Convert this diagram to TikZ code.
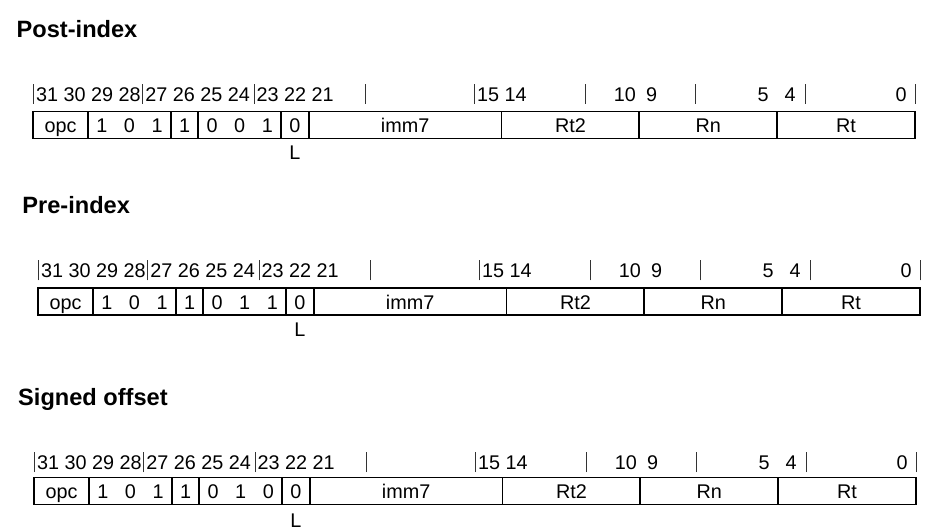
\documentclass[tikz,border=0pt]{standalone}
\usepackage{fontspec}
\setmainfont{Liberation Sans}
\tikzset{
  boxline/.style={line width=1.8bp, line cap=rect},
  tickline/.style={line width=1bp, black!80},
  celltext/.style={inner sep=0pt, anchor=base, font=\fontsize{19.8bp}{23bp}\selectfont},
  numtext/.style={inner sep=0pt, font=\fontsize{19.8bp}{23bp}\selectfont},
  titletext/.style={inner sep=0pt, anchor=base west, font=\fontsize{23.6bp}{28bp}\selectfont\bfseries},
}
% #1 prefix, #2 dx, #3 number baseline, #4 box top, #5 L baseline, #6 #7 #8 bits 25 24 23
\newcommand\encrow[8]{%
  % tick row
  \foreach \bx in {33.3,142.7,254,365,474.3,585,695,805,915.3}{%
    \draw[tickline] ({\bx+#2},{#3+2.5}) -- ({\bx+#2},{#3-17.5});}
  \node[numtext, anchor=base west] (#1na) at ({35.9+#2},#3) {31 30 29 28};
  \node[numtext, anchor=base west] (#1nb) at ({145.2+#2},#3) {27 26 25 24};
  \node[numtext, anchor=base west] (#1nc) at ({256.5+#2},#3) {23 22 21};
  \node[numtext, anchor=base west] (#1nd) at ({476.9+#2},#3) {15 14};
  \node[numtext, anchor=base east] (#1ne) at ({636+#2},#3) {10};
  \node[numtext, anchor=base west] (#1nf) at ({646+#2},#3) {9};
  \node[numtext, anchor=base] (#1ng) at ({763+#2},#3) {5};
  \node[numtext, anchor=base] (#1nh) at ({790+#2},#3) {4};
  \node[numtext, anchor=base] (#1ni) at ({901+#2},#3) {0};
  % box
  \draw[boxline] ({33+#2},#4) rectangle ({33+#2+32*27.5625},{#4+27});
  \foreach \k in {2,5,6,9,10,17,22,27}{%
    \draw[boxline] ({33+#2+\k*27.5625},#4) -- ({33+#2+\k*27.5625},{#4+27});}
  \node[celltext] (#1opc) at ({33+#2+1*27.5625},{#4+21.2}) {opc};
  \node[celltext] (#1b29) at ({33+#2+2.5*27.5625},{#4+21.2}) {1};
  \node[celltext] (#1b28) at ({33+#2+3.5*27.5625},{#4+21.2}) {0};
  \node[celltext] (#1b27) at ({33+#2+4.5*27.5625},{#4+21.2}) {1};
  \node[celltext] (#1b26) at ({33+#2+5.5*27.5625},{#4+21.2}) {1};
  \node[celltext] (#1b25) at ({33+#2+6.5*27.5625},{#4+21.2}) {#6};
  \node[celltext] (#1b24) at ({33+#2+7.5*27.5625},{#4+21.2}) {#7};
  \node[celltext] (#1b23) at ({33+#2+8.5*27.5625},{#4+21.2}) {#8};
  \node[celltext] (#1b22) at ({33+#2+9.5*27.5625},{#4+21.2}) {0};
  \node[celltext] (#1imm) at ({33+#2+13.5*27.5625},{#4+21.2}) {imm7};
  \node[celltext] (#1rtt) at ({33+#2+19.5*27.5625},{#4+21.2}) {Rt2};
  \node[celltext] (#1rn) at ({33+#2+24.5*27.5625},{#4+21.2}) {Rn};
  \node[celltext] (#1rt) at ({33+#2+29.5*27.5625},{#4+21.2}) {Rt};
  \node[celltext] (#1L) at ({33+#2+9.5*27.5625},#5) {L};
}
\begin{document}
\begin{tikzpicture}[x=1bp,y=-1bp]
  \fill[white] (0,0) rectangle (946,532);
  \useasboundingbox (0,0) rectangle (946,532);
  \node[titletext] (t1) at (16.5,37.7) {Post-index};
  \node[titletext] (t2) at (22.2,214) {Pre-index};
  \node[titletext] (t3) at (18,405) {Signed offset};
  \encrow{p}{0}{101.5}{111.5}{160}{0}{0}{1}
  \encrow{r}{5}{278}{288.3}{337}{0}{1}{1}
  \encrow{s}{1}{469.5}{477.5}{527}{0}{1}{0}
\end{tikzpicture}
\end{document}
